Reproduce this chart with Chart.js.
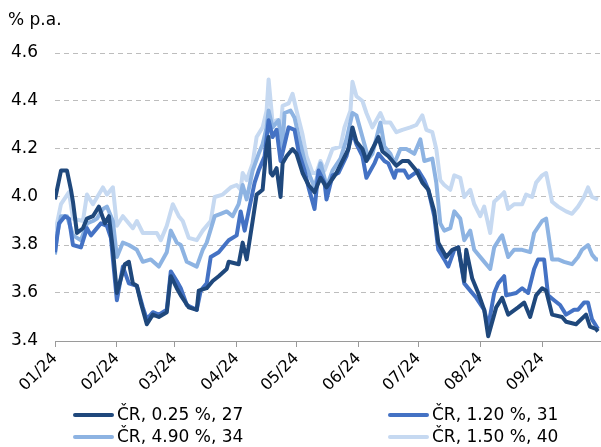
<!DOCTYPE html>
<html>
<head>
<meta charset="utf-8">
<script src="https://cdn.jsdelivr.net/npm/chart.js@4.4.0/dist/chart.umd.min.js"></script>
<style>
  html, body { margin: 0; padding: 0; background: #fff; }
  #wrap { width: 601px; height: 447px; }
</style>
</head>
<body>
<div id="wrap"><canvas id="chart" width="601" height="447"></canvas></div>
<script>
// x = day of year 2024 (0 = 1 Jan)
const monthDays = [0, 31, 60, 91, 121, 152, 182, 213, 244];
const monthLabels = ["01/24", "02/24", "03/24", "04/24", "05/24", "06/24", "07/24", "08/24", "09/24"];
const yTicks = [3.4, 3.6, 3.8, 4.0, 4.2, 4.4, 4.6];

const seriesNames = ["ČR, 0.25 %, 27", "ČR, 1.20 %, 31", "ČR, 4.90 %, 34", "ČR, 1.50 %, 40"];
const seriesColors = ["#1f487c", "#4472c4", "#8db3e2", "#c6d9f1"];

const daysA = [0, 3, 6, 8, 9, 11, 14, 16, 19, 22, 25, 27, 29, 31, 35, 37, 39, 41, 43, 46, 49, 52, 56, 58, 61, 63, 67, 71, 72, 76, 79, 82, 86, 87, 92, 94, 96, 99, 101, 104, 106, 107, 108, 109, 111, 113, 114, 116, 119, 121, 124, 127, 130, 133, 136, 141, 144, 147, 149, 151, 154, 156, 159, 162, 164, 167, 171, 174, 177, 181, 184, 187, 190, 192, 196, 199, 202, 205, 206, 209, 212, 215, 217, 221, 224, 227, 232, 235, 238, 241, 244, 246, 249, 254, 256, 261, 266, 268, 271, 272];
const valsA = [3.99, 4.11, 4.11, 4.03, 3.98, 3.85, 3.87, 3.91, 3.92, 3.96, 3.89, 3.92, 3.78, 3.60, 3.72, 3.73, 3.64, 3.63, 3.56, 3.47, 3.51, 3.50, 3.52, 3.67, 3.62, 3.59, 3.54, 3.53, 3.61, 3.62, 3.65, 3.67, 3.70, 3.73, 3.72, 3.81, 3.74, 3.90, 4.01, 4.03, 4.21, 4.25, 4.10, 4.09, 4.12, 4.00, 4.14, 4.17, 4.20, 4.18, 4.10, 4.05, 4.02, 4.08, 4.04, 4.10, 4.15, 4.20, 4.29, 4.23, 4.20, 4.15, 4.20, 4.25, 4.19, 4.17, 4.13, 4.15, 4.15, 4.11, 4.06, 4.03, 3.94, 3.81, 3.75, 3.78, 3.79, 3.65, 3.78, 3.66, 3.60, 3.53, 3.42, 3.54, 3.58, 3.51, 3.54, 3.56, 3.50, 3.59, 3.62, 3.61, 3.51, 3.50, 3.48, 3.47, 3.51, 3.46, 3.45, 3.44];

const daysB = [0, 2, 5, 7, 9, 13, 16, 18, 23, 26, 28, 31, 34, 37, 41, 44, 46, 49, 52, 56, 58, 61, 63, 66, 71, 73, 76, 78, 82, 87, 91, 93, 95, 97, 100, 102, 105, 107, 109, 111, 113, 115, 117, 120, 122, 125, 127, 130, 132, 135, 136, 139, 142, 146, 149, 151, 154, 156, 160, 162, 165, 167, 170, 171, 175, 177, 182, 185, 187, 190, 192, 195, 197, 200, 202, 205, 208, 211, 215, 217, 220, 222, 225, 226, 231, 234, 237, 240, 242, 245, 247, 250, 253, 256, 260, 262, 265, 267, 269, 272];
const valsB = [3.77, 3.89, 3.92, 3.91, 3.80, 3.79, 3.87, 3.84, 3.89, 3.88, 3.83, 3.57, 3.71, 3.64, 3.63, 3.54, 3.49, 3.52, 3.51, 3.53, 3.69, 3.65, 3.62, 3.55, 3.53, 3.61, 3.64, 3.75, 3.77, 3.82, 3.84, 3.94, 3.86, 3.94, 4.06, 4.11, 4.17, 4.32, 4.25, 4.28, 4.15, 4.22, 4.29, 4.28, 4.19, 4.11, 4.04, 3.95, 4.11, 4.06, 3.99, 4.09, 4.10, 4.17, 4.27, 4.22, 4.17, 4.08, 4.14, 4.18, 4.15, 4.14, 4.08, 4.11, 4.11, 4.08, 4.11, 4.07, 4.03, 3.92, 3.78, 3.74, 3.71, 3.78, 3.79, 3.64, 3.61, 3.58, 3.53, 3.46, 3.60, 3.64, 3.67, 3.59, 3.60, 3.62, 3.60, 3.70, 3.74, 3.74, 3.59, 3.57, 3.55, 3.51, 3.53, 3.53, 3.56, 3.56, 3.49, 3.45];

const daysC = [0, 1, 3, 6, 9, 13, 16, 19, 21, 24, 26, 29, 31, 34, 37, 41, 44, 48, 52, 56, 58, 61, 63, 66, 71, 74, 76, 80, 83, 86, 89, 92, 94, 96, 99, 102, 104, 106, 107, 109, 112, 114, 115, 118, 120, 123, 125, 128, 130, 133, 135, 136, 139, 143, 146, 149, 151, 154, 157, 159, 163, 165, 168, 170, 173, 176, 180, 183, 185, 189, 191, 193, 195, 198, 200, 203, 205, 208, 210, 214, 218, 220, 223, 224, 227, 230, 234, 238, 240, 244, 246, 249, 252, 255, 259, 262, 264, 267, 269, 271, 272];
const valsC = [3.76, 3.84, 3.92, 3.92, 3.84, 3.82, 3.89, 3.90, 3.91, 3.95, 3.96, 3.90, 3.75, 3.81, 3.80, 3.78, 3.73, 3.74, 3.71, 3.77, 3.86, 3.81, 3.80, 3.73, 3.71, 3.78, 3.81, 3.92, 3.93, 3.94, 3.92, 3.97, 4.05, 3.99, 4.11, 4.18, 4.22, 4.29, 4.36, 4.29, 4.32, 4.21, 4.35, 4.36, 4.33, 4.22, 4.15, 4.08, 4.04, 4.14, 4.08, 4.04, 4.11, 4.16, 4.24, 4.35, 4.34, 4.25, 4.16, 4.18, 4.31, 4.21, 4.18, 4.14, 4.20, 4.20, 4.18, 4.24, 4.15, 4.16, 4.06, 3.89, 3.86, 3.87, 3.94, 3.91, 3.82, 3.86, 3.78, 3.74, 3.70, 3.79, 3.83, 3.84, 3.75, 3.78, 3.78, 3.77, 3.85, 3.90, 3.91, 3.74, 3.74, 3.73, 3.72, 3.75, 3.78, 3.80, 3.76, 3.74, 3.74];

const daysD = [0, 3, 7, 9, 14, 16, 19, 24, 26, 29, 31, 34, 39, 41, 44, 51, 53, 56, 59, 62, 64, 67, 71, 74, 78, 80, 84, 88, 91, 93, 94, 96, 99, 101, 104, 106, 107, 109, 111, 113, 114, 117, 119, 121, 124, 126, 129, 131, 133, 135, 139, 143, 145, 148, 149, 151, 154, 156, 159, 161, 163, 165, 168, 171, 174, 178, 181, 184, 186, 189, 191, 193, 195, 198, 200, 203, 205, 208, 210, 213, 215, 218, 220, 224, 225, 227, 230, 234, 236, 239, 241, 244, 246, 249, 252, 256, 259, 262, 265, 267, 269, 272];
const valsD = [3.85, 3.97, 4.02, 3.91, 3.90, 4.01, 3.97, 4.04, 4.01, 4.04, 3.88, 3.92, 3.87, 3.90, 3.85, 3.85, 3.82, 3.88, 3.97, 3.92, 3.90, 3.83, 3.82, 3.86, 3.90, 4.00, 4.01, 4.04, 4.05, 4.03, 4.10, 4.07, 4.14, 4.25, 4.29, 4.36, 4.49, 4.31, 4.32, 4.28, 4.38, 4.39, 4.43, 4.36, 4.26, 4.17, 4.10, 4.10, 4.15, 4.11, 4.20, 4.21, 4.29, 4.36, 4.48, 4.42, 4.40, 4.35, 4.29, 4.32, 4.35, 4.31, 4.31, 4.27, 4.28, 4.29, 4.30, 4.34, 4.28, 4.27, 4.20, 4.07, 4.05, 4.03, 4.09, 4.08, 4.00, 4.03, 3.97, 3.92, 3.96, 3.85, 3.98, 4.01, 4.02, 3.95, 3.97, 3.97, 4.01, 4.00, 4.06, 4.09, 4.10, 3.98, 3.96, 3.94, 3.93, 3.96, 4.00, 4.04, 4.00, 3.99];

const FONT = "DejaVu Sans";

function toPoints(days, vals) {
    return days.map((d, i) => ({ x: d, y: vals[i] }));
}

const allDays = [daysA, daysB, daysC, daysD];
const allVals = [valsA, valsB, valsC, valsD];

// legend in two columns + unit label at top left
const extrasPlugin = {
    id: "extras",
    afterDraw(chart) {
        const ctx = chart.ctx;
        ctx.save();
        ctx.fillStyle = "#000";
        ctx.font = "17px '" + FONT + "'";
        ctx.textBaseline = "middle";
        ctx.textAlign = "left";
        ctx.fillText("% p.a.", 8, 21);

        const cols = [75, 390];
        const rows = [415, 437];
        seriesNames.forEach((name, i) => {
            const x = cols[i % 2];
            const y = rows[Math.floor(i / 2)];
            ctx.strokeStyle = seriesColors[i];
            ctx.lineWidth = 4;
            ctx.lineCap = "round";
            ctx.beginPath();
            ctx.moveTo(x, y);
            ctx.lineTo(x + 37, y);
            ctx.stroke();
            ctx.fillText(name, x + 42, y + 1);
        });
        ctx.restore();
    }
};

new Chart(document.getElementById("chart"), {
    type: "line",
    data: {
        datasets: seriesNames.map((name, i) => ({
            label: name,
            data: toPoints(allDays[i], allVals[i]),
            borderColor: seriesColors[i],
            backgroundColor: seriesColors[i],
            borderWidth: 4,
            borderJoinStyle: "round",
            pointRadius: 0,
            tension: 0,
            fill: false,
        })),
    },
    options: {
        responsive: false,
        animation: false,
        devicePixelRatio: 1,
        layout: { padding: { top: 53, left: 0, right: 1, bottom: 46 } },
        plugins: {
            legend: { display: false },
            tooltip: { enabled: false },
        },
        scales: {
            x: {
                type: "linear",
                min: 0,
                max: 273,
                afterBuildTicks: (s) => { s.ticks = monthDays.map(v => ({ value: v })); },
                afterFit: (s) => { s.height = 60; },
                ticks: {
                    autoSkip: false,
                    maxRotation: 45,
                    minRotation: 45,
                    padding: 2,
                    color: "#000",
                    font: { family: FONT, size: 16 },
                    callback: (v, i) => monthLabels[i],
                },
                grid: { drawOnChartArea: false, drawTicks: true, tickLength: 6, color: "#9a9a9a" },
                border: { color: "#9a9a9a" },
            },
            y: {
                min: 3.4,
                max: 4.6,
                afterBuildTicks: (s) => { s.ticks = yTicks.map(v => ({ value: v })); },
                afterFit: (s) => { s.width = 55; },
                ticks: {
                    padding: 17,
                    color: "#000",
                    font: { family: FONT, size: 17 },
                    callback: (v) => Number(v).toFixed(1),
                },
                grid: { color: "#bdbdbd", drawTicks: false, lineWidth: 1 },
                border: { display: false, dash: [5, 4] },
            },
        },
    },
    plugins: [extrasPlugin],
});
</script>
</body>
</html>
